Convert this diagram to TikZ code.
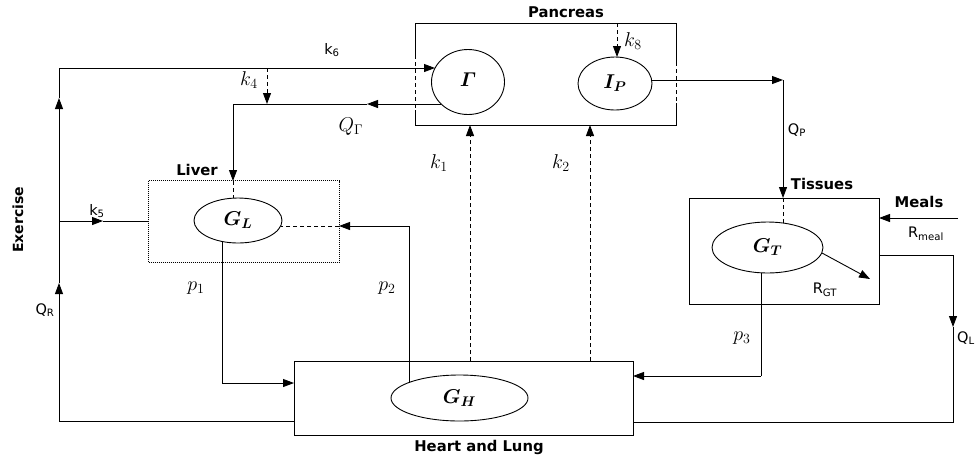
\documentclass[tikz,border=0pt]{standalone}
\usepackage{fix-cm}
\usepackage{amsmath,bm}
\usepackage{fontspec}
\setsansfont{DejaVu Sans}
\usetikzlibrary{arrows.meta,shapes.geometric}
\DeclareMathSizes{20}{20}{14}{10}
\newcommand\mylab{\sffamily\fontsize{14.5}{16}\selectfont}
\newcommand\myblab{\sffamily\bfseries\fontsize{14.8}{17}\selectfont}
\newcommand\mymlab{\fontsize{20}{22}\selectfont}
\begin{document}
\begin{tikzpicture}[x=1pt,y=-1pt,
  ln/.style={line width=0.9pt},
  tip/.style={-{Triangle[length=11pt,width=8pt]}},
  arr/.style={ln,tip},
  dsh/.style={ln,dash pattern=on 4pt off 3pt},
  dsharr/.style={dsh,tip},
  ell/.style={ellipse,draw,ln,inner sep=0pt,font=\mymlab},
  boxn/.style={rectangle,draw,ln,inner sep=0pt},
  lab/.style={inner sep=0pt,font=\mylab},
  blab/.style={inner sep=0pt,font=\myblab},
  mlab/.style={inner sep=0pt,font=\mymlab}]
\useasboundingbox (0,0) rectangle (976,459);
% ---- boxes
\coordinate (pTL) at (415,23); \coordinate (pTR) at (676,23);
\coordinate (pBL) at (415,125); \coordinate (pBR) at (676,125);
\coordinate (pL1) at (415,55); \coordinate (pL2) at (415,110);
\coordinate (pR1) at (676,62); \coordinate (pR2) at (676,103);
\draw[ln] (pL1) -- (pTL) -- (pTR) -- (pR1);
\draw[ln] (pR2) -- (pBR) -- (pBL) -- (pL2);
\draw[dsh] (pL1) -- (pL2);
\draw[dsh] (pR1) -- (pR2);
\node[boxn,draw=none,minimum width=190pt,minimum height=81pt] (liver) at (244,221.5) {};
\draw[line width=0.8pt,dash pattern=on 1pt off 1pt] (liver.north west) rectangle (liver.south east);
\node[boxn,minimum width=339pt,minimum height=74pt] (heart) at (463.5,398) {};
\node[boxn,minimum width=190pt,minimum height=106pt] (tiss) at (784,251) {};
% ---- ellipses
\node[ell,minimum width=73pt,minimum height=65pt] (gam) at (468,82) {\raisebox{5pt}{$\bm{\varGamma}$}};
\node[ell,minimum width=74pt,minimum height=53pt] (ip) at (615,83.5) {$\bm{I_P}$};
\node[ell,minimum width=88pt,minimum height=45pt] (gl) at (238,220.5) {$\bm{G_L}$};
\node[ell,minimum width=137pt,minimum height=46pt] (gh) at (459.5,398) {$\bm{G_H}$};
\node[ell,minimum width=111pt,minimum height=51pt] (gt) at (767.5,247.5) {$\bm{G_T}$};
% ---- labels
\node[blab] (lpanc) at (566,12) {Pancreas};
\node[blab] (lliver) at (197,170) {Liver};
\node[blab] (ltiss) at (822,184) {Tissues};
\node[blab] (lmeals) at (919,202) {Meals};
\node[blab] (lheart) at (479,447) {Heart and Lung};
\node[blab,rotate=90,font=\sffamily\bfseries\fontsize{14}{16}\selectfont] (lex) at (18,220) {Exercise};
\node[lab] (lk6) at (332,50) {k\textsubscript{6}};
\node[lab] (lk5) at (97,211) {k\textsubscript{5}};
\node[lab] (lqr) at (45,310) {Q\textsubscript{R}};
\node[lab] (lqp) at (797,130) {Q\textsubscript{P}};
\node[lab] (lql) at (966,338) {Q\textsubscript{L}};
\node[lab] (lrm) at (926,234) {R\textsubscript{meal}};
\node[lab] (lrgt) at (825,290) {R\textsubscript{GT}};
\node[mlab] (lk8) at (633,41) {$k_8$};
\node[mlab] (lk4) at (249,80) {$k_4$};
\node[mlab] (lqg) at (351,127) {$Q_\Gamma$};
\node[mlab] (lk1) at (439,163) {$k_1$};
\node[mlab] (lk2) at (561,163) {$k_2$};
\node[mlab] (lp1) at (196,288) {$p_1$};
\node[mlab] (lp2) at (387,288) {$p_2$};
\node[mlab] (lp3) at (742,338) {$p_3$};
% ---- coordinates
\coordinate (lt) at (59,68);
\coordinate (lb) at (59,421);
\coordinate (la1) at (59,283);
\coordinate (la2) at (59,98);
\coordinate (gamin) at (435,68);
\coordinate (k4a) at (267,68);
\coordinate (k4b) at (267,104);
\coordinate (gamout) at (441,104);
\coordinate (qgm) at (367,104);
\coordinate (qgc) at (233,104);
\coordinate (qgl) at (233,181);
\coordinate (gltop) at (233,198.3);
\coordinate (k5a) at (59,221);
\coordinate (k5m) at (103,221);
\coordinate (k5b) at (149,221);
\coordinate (glr) at (280.7,226);
\coordinate (lvr) at (339,226);
\coordinate (p2c) at (409,226);
\coordinate (ghp2) at (409,382.5);
\coordinate (glb) at (222,241.5);
\coordinate (p1c) at (222,383);
\coordinate (hl1) at (294,383);
\coordinate (hlb) at (294,421);
\coordinate (k1a) at (470,361);
\coordinate (k1b) at (470,125);
\coordinate (k2a) at (590,361);
\coordinate (k2b) at (590,125);
\coordinate (k8a) at (617,23);
\coordinate (k8b) at (617,57);
\coordinate (ipr) at (651.7,80);
\coordinate (qpc) at (783,80);
\coordinate (tt) at (783,198);
\coordinate (gttop) at (783,223.3);
\coordinate (rg1) at (822,253);
\coordinate (rg2) at (870,279);
\coordinate (ml1) at (958,218);
\coordinate (ml2) at (879,218);
\coordinate (ql1) at (879,255);
\coordinate (qlc) at (953,255);
\coordinate (qlm) at (953,327);
\coordinate (qlb) at (953,422);
\coordinate (hrb) at (633,422);
\coordinate (gtb) at (761,272.8);
\coordinate (p3c) at (761,376);
\coordinate (hr3) at (633,376);
% ---- connectors
\draw[ln] (hlb) -- (lb);
\draw[arr] (lb) -- (la1);
\draw[arr] (la1) -- (la2);
\draw[ln] (la2) -- (lt);
\draw[arr] (lt) -- (gamin);
\draw[dsharr] (k4a) -- (k4b);
\draw[arr] (gamout) -- (qgm);
\draw[ln] (qgm) -- (qgc);
\draw[arr] (qgc) -- (qgl);
\draw[dsh] (qgl) -- (gltop);
\draw[arr] (k5a) -- (k5m);
\draw[ln] (k5m) -- (k5b);
\draw[ln] (ghp2) -- (p2c);
\draw[arr] (p2c) -- (lvr);
\draw[dsh] (lvr) -- (glr);
\draw[ln] (glb) -- (p1c);
\draw[arr] (p1c) -- (hl1);
\draw[dsharr] (k1a) -- (k1b);
\draw[dsharr] (k2a) -- (k2b);
\draw[dsharr] (k8a) -- (k8b);
\draw[arr] (ipr) -- (qpc);
\draw[arr] (qpc) -- (tt);
\draw[dsh] (tt) -- (gttop);
\draw[arr] (rg1) -- (rg2);
\draw[arr] (ml1) -- (ml2);
\draw[ln] (ql1) -- (qlc);
\draw[arr] (qlc) -- (qlm);
\draw[ln] (qlm) -- (qlb) -- (hrb);
\draw[ln] (gtb) -- (p3c);
\draw[arr] (p3c) -- (hr3);
\end{tikzpicture}
\end{document}
